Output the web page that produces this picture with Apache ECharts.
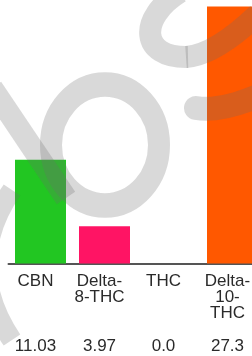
<!DOCTYPE html>
<html>
<head>
<meta charset="utf-8">
<script src="https://cdn.jsdelivr.net/npm/echarts@6/dist/echarts.min.js"></script>
<style>
  html, body { margin: 0; padding: 0; background: #fff; }
  #chart { width: 252px; height: 356px; }
</style>
</head>
<body>
<div id="chart"></div>
<script>
// data
var categories = ['CBN', 'Delta-\n8-THC', 'THC', 'Delta-\n10-\nTHC'];
var values = [11.03, 3.97, 0.0, 27.3];
var barColors = ['#22c622', '#ff1464', '#999999', '#ff5800'];

var chart = echarts.init(document.getElementById('chart'), null, { renderer: 'canvas' });

function fmtValue(v) {
  return v % 1 === 0 ? v.toFixed(1) : String(v);
}

var wm = 'rgba(110,110,110,0.26)'; // watermark strokes

var option = {
  animation: false,
  backgroundColor: '#fff',
  textStyle: { fontFamily: 'Liberation Sans, Arial, sans-serif' },
  grid: {
    left: 8.5, width: 256, top: 0, bottom: 92.5,
    containLabel: false, outerBoundsMode: 'none'
  },
  xAxis: [{
    type: 'category',
    data: categories,
    axisLine: { lineStyle: { color: '#555', width: 2 } },
    axisTick: { show: false },
    axisLabel: {
      color: '#2a2a2a', fontSize: 17, lineHeight: 16, margin: 10,
      interval: 0, verticalAlign: 'top', hideOverlap: false,
      padding: [0, 10, 0, 0]
    }
  }, {
    type: 'category',
    data: categories,
    position: 'bottom',
    axisLine: { show: false },
    axisTick: { show: false },
    axisLabel: {
      color: '#2a2a2a', fontSize: 17, margin: 74, interval: 0,
      padding: [0, 10, 0, 0],
      formatter: function (val, i) { return fmtValue(values[i]); }
    }
  }],
  yAxis: {
    type: 'value', min: 0, max: 28,
    show: false, splitLine: { show: false }
  },
  series: [{
    type: 'bar',
    barWidth: 51,
    data: values.map(function (v, i) {
      return { value: v, itemStyle: { color: barColors[i] } };
    })
  }],
  graphic: [
    { type: 'circle', z: 100, silent: true, shape: { cx: 0, cy: 0, r: 54 },
      x: 105, y: 145, scaleY: 1.12,
      style: { fill: 'none', stroke: wm, lineWidth: 22 } },
    { type: 'line', z: 100, silent: true, shape: { x1: -8, y1: 88, x2: 66, y2: 198 },
      style: { stroke: wm, lineWidth: 22 } },
    { type: 'bezierCurve', z: 100, silent: true,
      shape: { x1: 12, y1: 190, cpx1: -22, cpy1: 240, cpx2: -22, cpy2: 290, x2: 12, y2: 340 },
      style: { fill: 'none', stroke: wm, lineWidth: 20 } },
    { type: 'bezierCurve', z: 100, silent: true,
      shape: { x1: 180, y1: -8, cpx1: 138, cpy1: 18, cpx2: 140, cpy2: 58, x2: 188, y2: 57 },
      style: { fill: 'none', stroke: wm, lineWidth: 22 } },
    { type: 'bezierCurve', z: 100, silent: true,
      shape: { x1: 186, y1: 57, cpx1: 215, cpy1: 55, x2: 258, y2: 14 },
      style: { fill: 'none', stroke: wm, lineWidth: 22 } },
    { type: 'bezierCurve', z: 100, silent: true,
      shape: { x1: 196, y1: 108, cpx1: 220, cpy1: 112, x2: 258, y2: 96 },
      style: { fill: 'none', stroke: wm, lineWidth: 24, lineCap: 'round' } }
  ]
};

chart.setOption(option);
</script>
</body>
</html>
